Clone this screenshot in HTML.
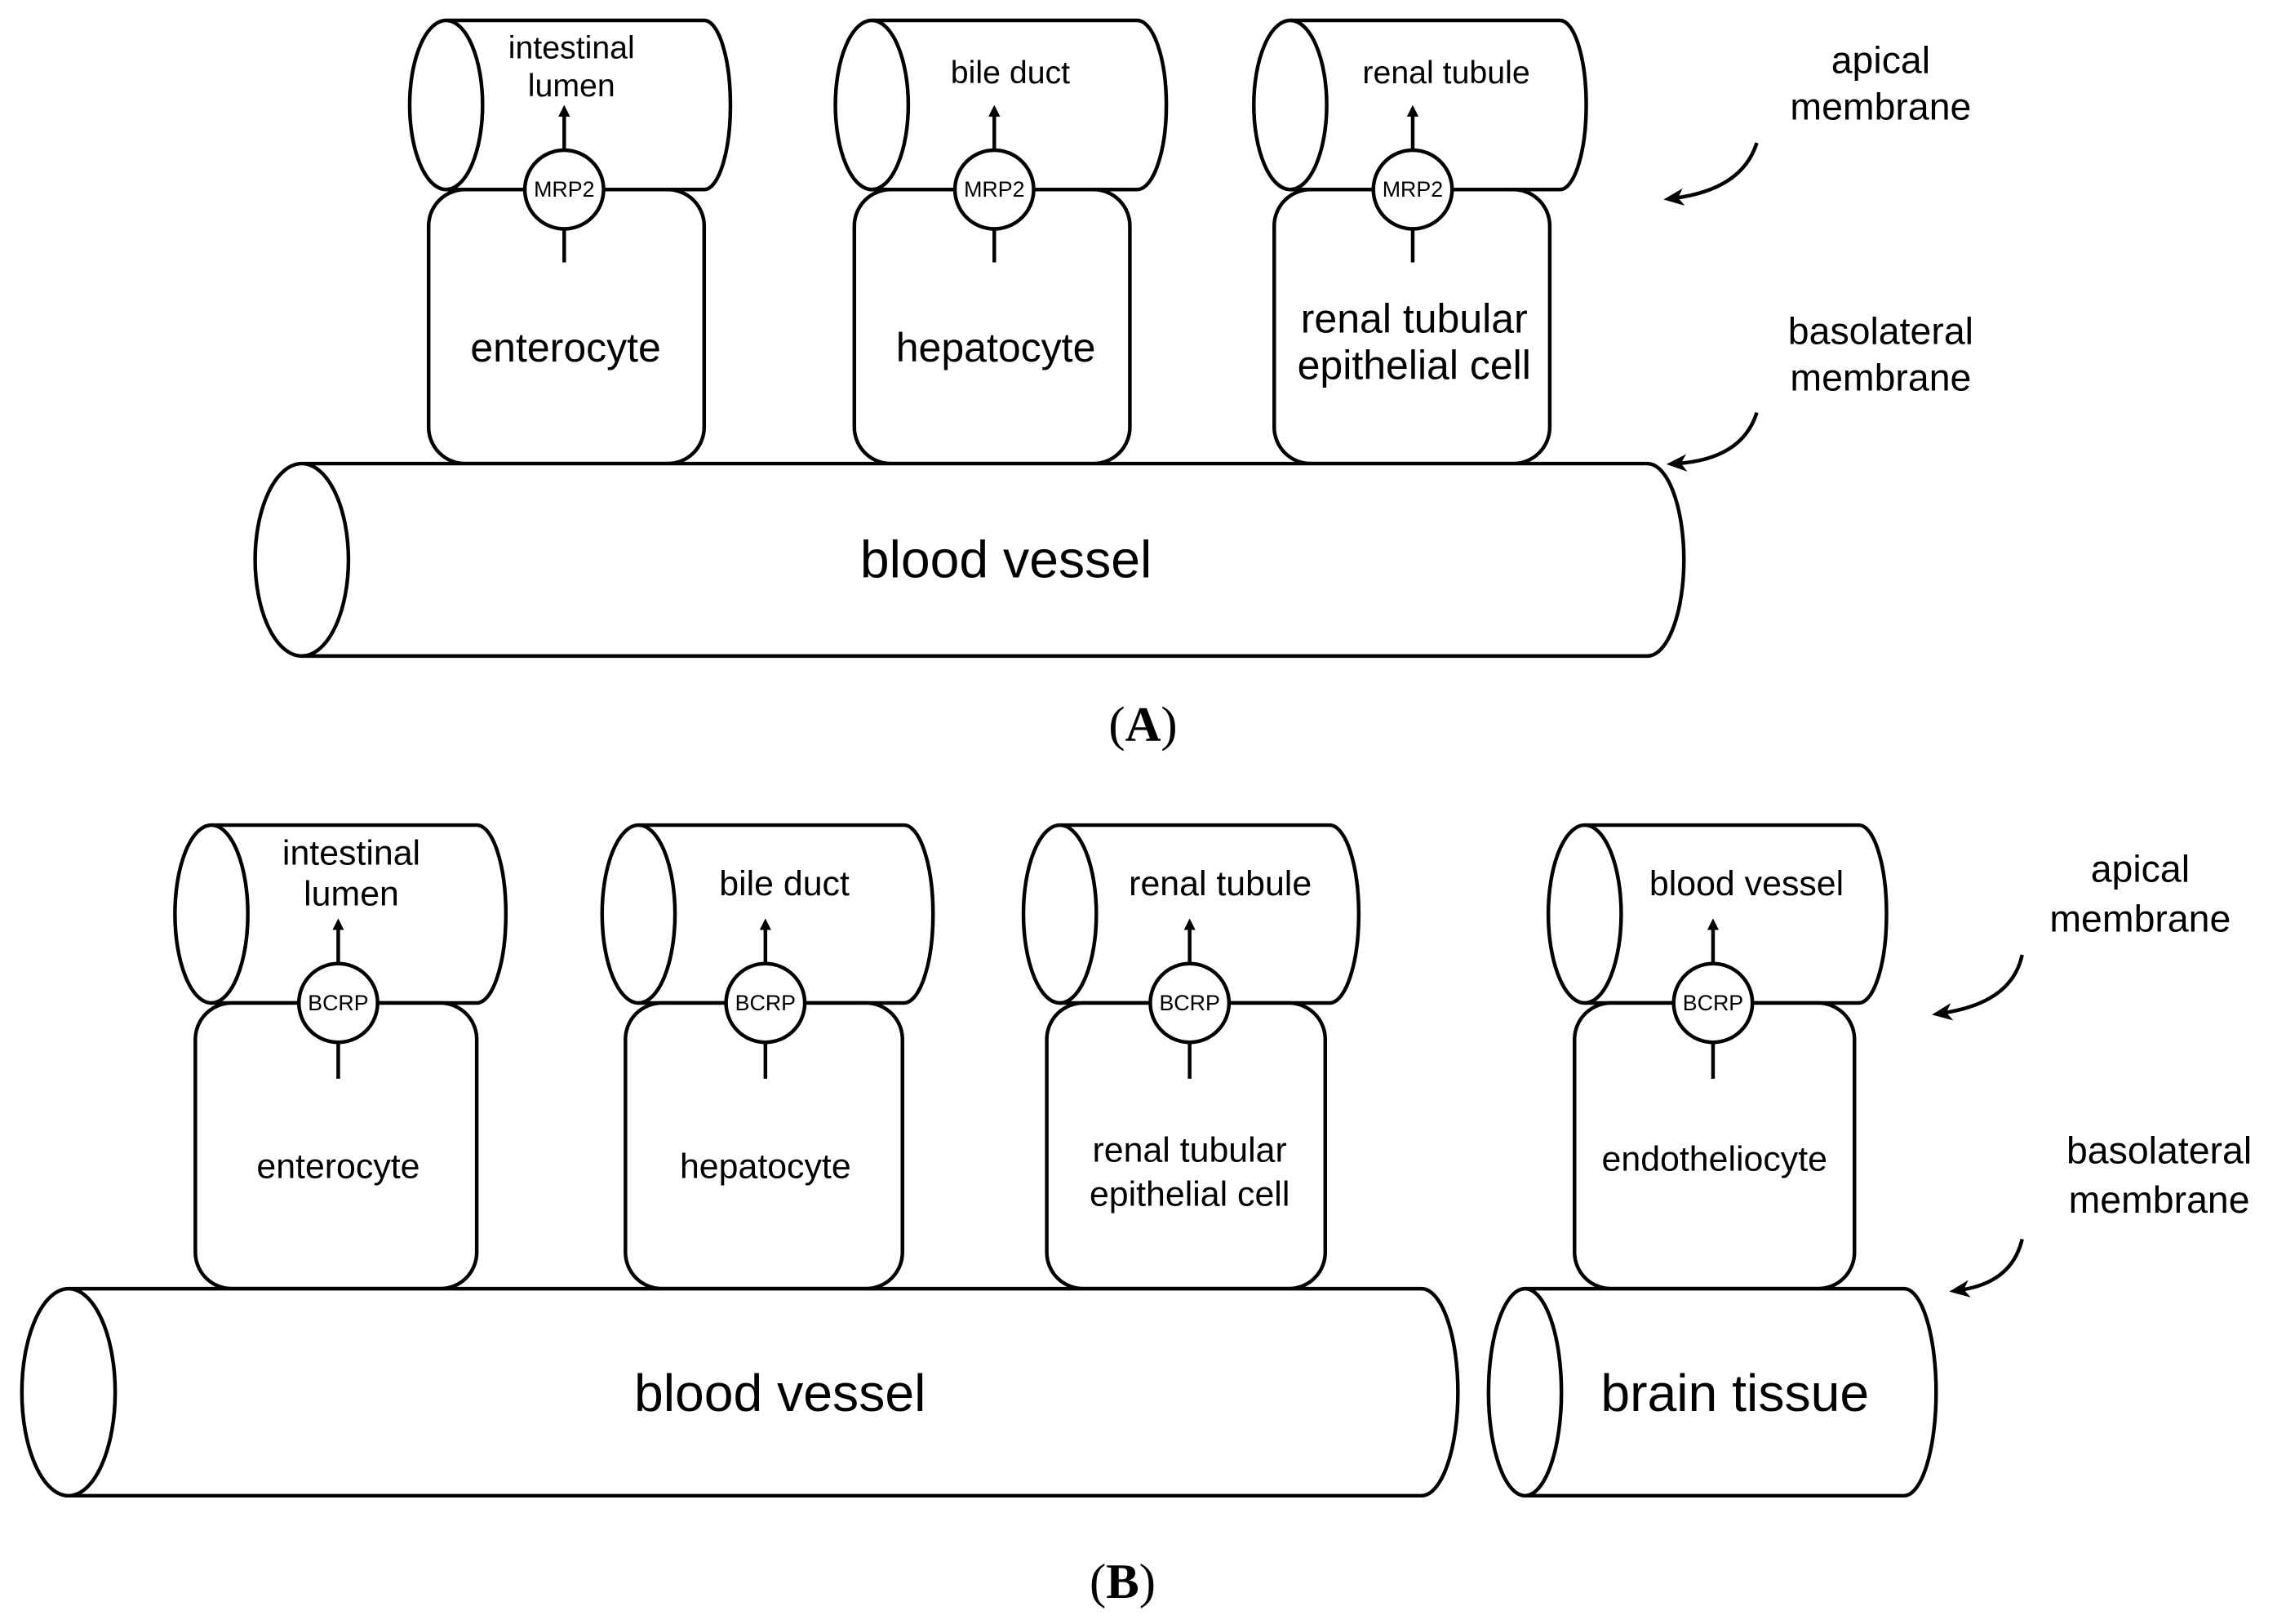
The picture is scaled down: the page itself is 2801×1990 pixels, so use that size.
<!DOCTYPE html>
<html><head><meta charset="utf-8"><style>
html,body{margin:0;padding:0;background:#fff;}
svg{display:block;}
text{font-family:"Liberation Sans",Arial,sans-serif;fill:#000;}
</style></head><body>
<svg width="2801" height="1990" viewBox="0 0 1568 1114" xmlns="http://www.w3.org/2000/svg">
<defs>
<marker id="ah" markerWidth="8" markerHeight="8" refX="4" refY="4" orient="auto" markerUnits="userSpaceOnUse"><path d="M0,0 L8,4 L0,8 z" fill="#000"/></marker>
<marker id="ah2" markerWidth="14" markerHeight="14" refX="7" refY="7" orient="auto" markerUnits="userSpaceOnUse"><path d="M0,1 L14,7 L0,13 L4,7 z" fill="#000"/></marker>
</defs>
<g fill="#fff" stroke="#000" stroke-width="2.5">
<path d="M306,14 L483,14 A18,58 0 0 1 483,130 L306,130"/><ellipse cx="306" cy="72" rx="25" ry="58"/>
<path d="M598,14 L780,14 A20,58 0 0 1 780,130 L598,130"/><ellipse cx="598" cy="72" rx="25" ry="58"/>
<path d="M885,14 L1070,14 A18,58 0 0 1 1070,130 L885,130"/><ellipse cx="885" cy="72" rx="25" ry="58"/>
<rect x="294" y="130" width="189" height="188" rx="25"/>
<rect x="586" y="130" width="189" height="188" rx="25"/>
<rect x="874" y="130" width="189" height="188" rx="25"/>
<path d="M207,318 L1130,318 A25,66 0 0 1 1130,450 L207,450"/><ellipse cx="207" cy="384" rx="32" ry="66"/>
<path d="M145,566 L327,566 A20,61 0 0 1 327,688 L145,688"/><ellipse cx="145" cy="627" rx="25" ry="61"/>
<path d="M438,566 L620,566 A20,61 0 0 1 620,688 L438,688"/><ellipse cx="438" cy="627" rx="25" ry="61"/>
<path d="M727,566 L912,566 A20,61 0 0 1 912,688 L727,688"/><ellipse cx="727" cy="627" rx="25" ry="61"/>
<path d="M1087,566 L1275,566 A19,61 0 0 1 1275,688 L1087,688"/><ellipse cx="1087" cy="627" rx="25" ry="61"/>
<rect x="134" y="688" width="193" height="196" rx="25"/>
<rect x="429" y="688" width="190" height="196" rx="25"/>
<rect x="718" y="688" width="191" height="196" rx="25"/>
<rect x="1080" y="688" width="192" height="196" rx="25"/>
<path d="M47,884 L975,884 A25,71 0 0 1 975,1026 L47,1026"/><ellipse cx="47" cy="955" rx="32" ry="71"/>
<path d="M1046,884 L1306,884 A22,71 0 0 1 1306,1026 L1046,1026"/><ellipse cx="1046" cy="955" rx="25" ry="71"/>
<circle cx="387" cy="130" r="27"/><circle cx="682" cy="130" r="27"/><circle cx="969" cy="130" r="27"/>
<circle cx="232" cy="688" r="27"/><circle cx="525" cy="688" r="27"/><circle cx="816" cy="688" r="27"/><circle cx="1175" cy="688" r="27"/>
</g>
<g stroke="#000" stroke-width="2.5" fill="none">
<line x1="387" y1="103" x2="387" y2="76" marker-end="url(#ah)"/><line x1="387" y1="157" x2="387" y2="180"/>
<line x1="682" y1="103" x2="682" y2="76" marker-end="url(#ah)"/><line x1="682" y1="157" x2="682" y2="180"/>
<line x1="969" y1="103" x2="969" y2="76" marker-end="url(#ah)"/><line x1="969" y1="157" x2="969" y2="180"/>
<line x1="232" y1="661" x2="232" y2="634" marker-end="url(#ah)"/><line x1="232" y1="715" x2="232" y2="740"/>
<line x1="525" y1="661" x2="525" y2="634" marker-end="url(#ah)"/><line x1="525" y1="715" x2="525" y2="740"/>
<line x1="816" y1="661" x2="816" y2="634" marker-end="url(#ah)"/><line x1="816" y1="715" x2="816" y2="740"/>
<line x1="1175" y1="661" x2="1175" y2="634" marker-end="url(#ah)"/><line x1="1175" y1="715" x2="1175" y2="740"/>
<path d="M1205,98 Q1195,130 1148,136" marker-end="url(#ah2)"/>
<path d="M1205,283 Q1195,315 1150,318" marker-end="url(#ah2)"/>
<path d="M1387,655 Q1380,688 1332,695" marker-end="url(#ah2)"/>
<path d="M1387,850 Q1380,880 1344,885" marker-end="url(#ah2)"/>
</g>
<g text-anchor="middle">
<text x="392" y="40" font-size="22">intestinal</text><text x="392" y="66" font-size="22">lumen</text>
<text x="693" y="57" font-size="22">bile duct</text>
<text x="992" y="57" font-size="22">renal tubule</text>
<g font-size="15"><text x="387" y="135">MRP2</text><text x="682" y="135">MRP2</text><text x="969" y="135">MRP2</text>
<text x="232" y="693">BCRP</text><text x="525" y="693">BCRP</text><text x="816" y="693">BCRP</text><text x="1175" y="693">BCRP</text></g>
<text x="388" y="248" font-size="28">enterocyte</text>
<text x="683" y="248" font-size="28">hepatocyte</text>
<text x="970" y="228" font-size="28">renal tubular</text><text x="970" y="260" font-size="28">epithelial cell</text>
<text x="690" y="396" font-size="36">blood vessel</text>
<text x="1290" y="50" font-size="26">apical</text><text x="1290" y="82" font-size="26">membrane</text>
<text x="1290" y="236" font-size="26">basolateral</text><text x="1290" y="268" font-size="26">membrane</text>
<text x="784" y="508" font-size="34" style="font-family:'Liberation Serif',serif">(<tspan font-weight="bold">A</tspan>)</text>
<text x="241" y="593" font-size="24">intestinal</text><text x="241" y="621" font-size="24">lumen</text>
<text x="538" y="614" font-size="24">bile duct</text>
<text x="837" y="614" font-size="24">renal tubule</text>
<text x="1198" y="614" font-size="24">blood vessel</text>
<text x="232" y="808" font-size="24">enterocyte</text>
<text x="525" y="808" font-size="24">hepatocyte</text>
<text x="816" y="797" font-size="24">renal tubular</text><text x="816" y="827" font-size="24">epithelial cell</text>
<text x="1176" y="803" font-size="24">endotheliocyte</text>
<text x="535" y="968" font-size="36">blood vessel</text>
<text x="1190" y="968" font-size="36">brain tissue</text>
<text x="1468" y="605" font-size="26">apical</text><text x="1468" y="639" font-size="26">membrane</text>
<text x="1481" y="798" font-size="26">basolateral</text><text x="1481" y="832" font-size="26">membrane</text>
<text x="770" y="1096" font-size="34" style="font-family:'Liberation Serif',serif">(<tspan font-weight="bold">B</tspan>)</text>
</g>
</svg>
</body></html>
